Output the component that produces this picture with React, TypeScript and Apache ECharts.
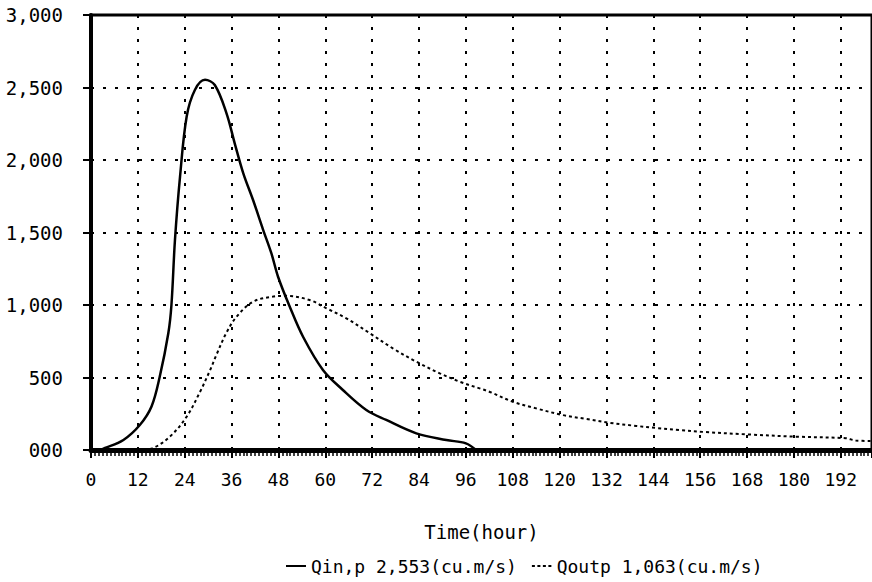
import React, { useEffect, useRef } from "react";
import * as echarts from "echarts";

const qinHours = [0, 2, 3.6, 8.3, 12.5, 15.5, 17.6, 19.8, 20.6, 21.5, 22.8, 24.5, 26.6, 29.2, 31.7, 34.7, 36.8, 39, 41.5, 44.1, 46.2, 47.9, 50.9, 54.3, 59.4, 64.5, 70.5, 75.6, 83.3, 91, 96, 98.6];
const qinValues = [0, 0, 14, 69, 172, 300, 505, 805, 1000, 1448, 1885, 2300, 2483, 2553, 2517, 2322, 2115, 1908, 1724, 1517, 1356, 1195, 988, 781, 552, 414, 276, 207, 115, 69, 46, 0];

const qoutHours = [12, 15.9, 20.2, 24.5, 27.9, 30.4, 32.1, 34.7, 37.3, 41.5, 46.6, 50, 56, 60.3, 65.4, 71.4, 77.3, 83.3, 89.3, 94.4, 99.5, 102, 108, 114, 120.8, 126.8, 132.7, 139.6, 144.7, 150.6, 156.6, 167.7, 180.5, 193.3, 195.8, 200];
const qoutValues = [0, 14, 92, 230, 400, 545, 655, 810, 920, 1023, 1058, 1063, 1034, 977, 908, 805, 701, 609, 529, 471, 425, 402, 333, 287, 241, 214, 188, 166, 152, 138, 125, 108, 92, 81, 65, 62];

const seriesNames = ["Qin,p 2,553(cu.m/s)", "Qoutp 1,063(cu.m/s)"];
const xAxisTitle = "Time(hour)";

const FONT = "DejaVu Sans Mono";

const solidIcon = "path://M0,0L0.01,0L0.01,0.01Z M0,5L20,5L20,7L0,7Z M0,12L0.01,12L0.01,12.01Z";
const dotIcon =
  "path://M0,0L0.01,0L0.01,0.01Z M0,5L3,5L3,7L0,7Z M5.5,5L8.5,5L8.5,7L5.5,7Z M11,5L14,5L14,7L11,7Z M16.5,5L19.5,5L19.5,7L16.5,7Z M0,12L0.01,12L0.01,12.01Z";

export default function App() {
  const ref = useRef<HTMLDivElement>(null);
  useEffect(() => {
    if (!ref.current) return;
    const chart = echarts.init(ref.current, null, { renderer: "svg" });
    const dotted = { color: "#000", width: 2, type: [3, 9] as any };
    chart.setOption({
      animation: false,
      backgroundColor: "#fff",
      grid: {
        left: 91,
        top: 15,
        width: 782,
        height: 435,
        show: true,
        borderColor: "#000",
        borderWidth: 3,
        backgroundColor: "transparent",
      },
      legend: {
        left: 281,
        top: 552,
        itemWidth: 20,
        itemHeight: 12,
        itemGap: 15,
        textStyle: { fontFamily: FONT, fontSize: 18, color: "#000" },
        data: [
          { name: seriesNames[0], icon: solidIcon },
          { name: seriesNames[1], icon: dotIcon },
        ],
      },
      xAxis: {
        type: "value",
        min: 0,
        max: 200,
        interval: 12,
        name: xAxisTitle,
        nameLocation: "middle",
        nameGap: 72,
        nameTextStyle: { fontFamily: FONT, fontSize: 19, color: "#000" },
        axisLine: { lineStyle: { color: "#000", width: 5 } },
        axisTick: { length: 8, lineStyle: { color: "#000", width: 2 } },
        minorTick: { show: true, splitNumber: 12, length: 6, lineStyle: { color: "#000", width: 1.5 } },
        axisLabel: {
          margin: 20,
          showMaxLabel: false,
          fontFamily: FONT,
          fontSize: 18,
          color: "#000",
        },
        splitLine: { show: true, lineStyle: dotted },
      },
      yAxis: {
        type: "value",
        min: 0,
        max: 3000,
        interval: 500,
        axisLine: { show: true, lineStyle: { color: "#000", width: 4 } },
        axisTick: { show: true, length: 8, lineStyle: { color: "#000", width: 2 } },
        axisLabel: {
          margin: 28,
          fontFamily: FONT,
          fontSize: 19,
          color: "#000",
          formatter: (v: number) => (v === 0 ? "000" : v.toLocaleString("en-US")),
        },
        splitLine: { show: true, lineStyle: dotted },
      },
      series: [
        {
          name: seriesNames[0],
          type: "line",
          symbol: "none",
          smooth: 0.35,
          lineStyle: { color: "#000", width: 2.5, type: "solid" },
          itemStyle: { color: "#000" },
          data: qinHours.map((h, i) => [h, qinValues[i]]),
          z: 3,
        },
        {
          name: seriesNames[1],
          type: "line",
          symbol: "none",
          smooth: 0.35,
          lineStyle: { color: "#000", width: 2, type: [3, 3] as any },
          itemStyle: { color: "#000" },
          data: qoutHours.map((h, i) => [h, qoutValues[i]]),
          z: 3,
        },
      ],
    });
    return () => chart.dispose();
  }, []);
  return (
    <div
      ref={ref}
      style={{ position: "absolute", left: 0, top: 0, width: 872, height: 582, background: "#fff" }}
    />
  );
}
